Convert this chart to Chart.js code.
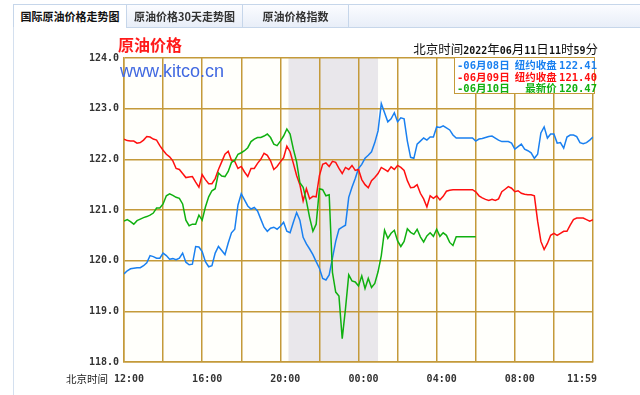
<!DOCTYPE html>
<html lang="zh-CN">
<head>
<meta charset="utf-8">
<title>原油价格走势图</title>
<script src="https://cdn.jsdelivr.net/npm/chart.js@4"></script>
<style>
  html, body { margin: 0; padding: 0; background: #fff; }
  #wrap { position: relative; width: 640px; height: 395px; overflow: hidden; font-family: "Noto Sans CJK SC", sans-serif; }
  #chart { position: absolute; left: 0; top: 0; }
  .tab { position: absolute; top: 4px; height: 24px; box-sizing: border-box; border: 1px solid #c6d6ea;
         background: linear-gradient(#fbfcff, #e8eef8); font-size: 11px; font-weight: bold; color: #333;
         line-height: 22px; text-align: center; white-space: nowrap; }
  .tab.active { background: #fff; border-bottom-color: #fff; color: #111; }
  #leftLine { position: absolute; left: 13px; top: 27px; width: 1px; height: 368px; background: #d4e0ef; }
  #title { position: absolute; left: 118px; top: 35px; font-size: 16px; font-weight: bold; color: #ff1a1a; line-height: 18px; }
  #site { position: absolute; left: 120px; top: 62px; font-family: "Liberation Sans", Arial, sans-serif; font-size: 18px; color: #4169e1; line-height: 18px; }
  #clock { position: absolute; right: 42px; top: 42px; font-size: 12.5px; line-height: 14px; color: #111; white-space: nowrap; }
  #clock .mono { font-size: 10px; }
  .mono { font-family: "DejaVu Sans Mono", monospace; font-weight: bold; }
  #legendBox { position: absolute; left: 454px; top: 57px; width: 141px; height: 37px; box-sizing: border-box;
               border: 1px solid #c49a3a; background: #fff; padding-top: 1px; }
  .row { position: relative; height: 11.5px; line-height: 11.5px; font-size: 10.5px; font-weight: bold; white-space: nowrap; }
  .row .l { position: absolute; left: 2px; }
  .row .r { position: absolute; right: -3px; }
  #xName { position: absolute; left: 66px; top: 372px; font-size: 10.5px; line-height: 13px; color: #222; }
</style>
</head>
<body>
<div id="wrap">
  <canvas id="chart" width="640" height="395"></canvas>

  <div class="tab active" style="left:13px;width:114px">国际原油价格走势图</div>
  <div class="tab" style="left:126px;width:117px">原油价格30天走势图</div>
  <div class="tab" style="left:242px;width:107px">原油价格指数</div>
  <div class="tab" style="left:348px;width:300px"></div>
  <div id="leftLine"></div>

  <div id="title">原油价格</div>
  <div id="site">www.kitco.cn</div>
  <div id="clock">北京时间<span class="mono">2022</span>年<span class="mono">06</span>月<span class="mono">11</span>日<span class="mono">11</span>时<span class="mono">59</span>分</div>

  <div id="legendBox">
    <div class="row" style="color:#1a80f0"><span class="l"><span class="mono">-06</span>月<span class="mono">08</span>日</span><span class="r">纽约收盘 <span class="mono">122.41</span></span></div>
    <div class="row" style="color:#ff1010"><span class="l"><span class="mono">-06</span>月<span class="mono">09</span>日</span><span class="r">纽约收盘 <span class="mono">121.40</span></span></div>
    <div class="row" style="color:#10b010"><span class="l"><span class="mono">-06</span>月<span class="mono">10</span>日</span><span class="r">最新价 <span class="mono">120.47</span></span></div>
  </div>

  <div id="xName">北京时间</div>
</div>

<script>
// ===== Datos (un valor cada 10 minutos desde las 12:00) =====
const STEP_MIN = 10;

// 06月08日 (azul)
const jun08 = [
  119.74, 119.80, 119.84, 119.85, 119.86, 119.86, 119.90, 119.96, 120.10, 120.08, 120.05, 120.05,
  120.15, 120.10, 120.03, 120.04, 120.02, 120.05, 120.15, 119.97, 119.92, 119.93, 120.28, 120.27,
  120.18, 119.98, 119.88, 119.90, 120.15, 120.28, 120.20, 120.12, 120.35, 120.55, 120.62, 121.10,
  121.32, 121.20, 121.08, 121.02, 121.05, 120.98, 120.82, 120.66, 120.58, 120.64, 120.66, 120.62,
  120.68, 120.76, 120.58, 120.55, 120.76, 120.95, 120.80, 120.46, 120.33, 120.23, 120.12, 119.98,
  119.85, 119.65, 119.62, 119.72, 120.05, 120.38, 120.62, 120.66, 120.70, 121.25, 121.45, 121.62,
  121.82, 121.90, 122.02, 122.08, 122.15, 122.33, 122.56, 123.10, 122.92, 122.74, 122.80, 122.92,
  122.74, 122.82, 122.80, 122.36, 122.04, 122.02, 122.30, 122.36, 122.42, 122.38, 122.44, 122.44,
  122.64, 122.63, 122.66, 122.62, 122.58, 122.48, 122.42, 122.42, 122.42, 122.42, 122.42, 122.42,
  122.36, 122.40, 122.41, 122.43, 122.45, 122.46, 122.42, 122.38, 122.35, 122.35, 122.35, 122.32,
  122.20, 122.25, 122.30, 122.20, 122.17, 122.13, 122.02, 122.10, 122.52, 122.64, 122.42, 122.50,
  122.50, 122.32, 122.33, 122.22, 122.44, 122.48, 122.48, 122.45, 122.33, 122.31, 122.33, 122.38,
  122.44
];

// 06月09日 (rojo)
const jun09 = [
  122.40, 122.37, 122.36, 122.36, 122.32, 122.33, 122.38, 122.45, 122.44, 122.40, 122.38, 122.27,
  122.18, 122.10, 122.05, 121.97, 121.82, 121.80, 121.72, 121.64, 121.65, 121.66, 121.55, 121.45,
  121.70, 121.60, 121.52, 121.52, 121.62, 121.80, 121.95, 122.10, 122.16, 121.98, 121.96, 121.82,
  121.86, 121.75, 121.66, 121.82, 121.82, 121.92, 122.00, 122.12, 122.08, 121.97, 121.80, 121.86,
  121.95, 122.03, 122.26, 122.15, 121.92, 121.68, 121.50, 121.18, 121.42, 121.22, 121.27, 121.26,
  121.68, 121.90, 121.93, 121.86, 121.96, 121.94, 121.82, 121.72, 121.84, 121.80, 121.88, 121.78,
  121.80, 121.60, 121.50, 121.44, 121.58, 121.64, 121.72, 121.84, 121.80, 121.76, 121.85, 121.80,
  121.88, 121.84, 121.78, 121.58, 121.44, 121.45, 121.50, 121.33, 121.22, 121.06, 121.28, 121.23,
  121.28, 121.20, 121.27, 121.37, 121.39, 121.40, 121.40, 121.40, 121.40, 121.40, 121.40, 121.40,
  121.36, 121.28, 121.24, 121.21, 121.19, 121.21, 121.19, 121.22, 121.36, 121.41, 121.46, 121.43,
  121.36, 121.38, 121.33, 121.31, 121.30, 121.30, 121.28, 120.78, 120.38, 120.22, 120.34, 120.50,
  120.54, 120.50, 120.54, 120.58, 120.58, 120.70, 120.81, 120.84, 120.84, 120.84, 120.81, 120.78,
  120.81
];

// 06月10日 (verde, hasta las 06:00)
const jun10 = [
  120.78, 120.81, 120.77, 120.72, 120.79, 120.82, 120.85, 120.87, 120.90, 120.94, 121.04, 121.04,
  121.12, 121.28, 121.32, 121.29, 121.25, 121.23, 121.12, 120.80, 120.69, 120.72, 120.72, 120.90,
  120.80, 121.06, 121.26, 121.38, 121.42, 121.73, 121.67, 121.66, 121.76, 121.94, 121.98, 122.10,
  122.13, 122.17, 122.23, 122.35, 122.40, 122.43, 122.43, 122.46, 122.50, 122.43, 122.30, 122.27,
  122.36, 122.46, 122.60, 122.50, 122.20, 121.95, 121.54, 121.45, 121.18, 120.85, 120.58, 120.72,
  121.42, 121.40, 121.28, 121.30, 119.77, 119.38, 119.30, 118.46, 119.05, 119.72, 119.60, 119.58,
  119.50, 119.70, 119.45, 119.65, 119.47, 119.55, 119.78, 120.10, 120.60, 120.44, 120.54, 120.60,
  120.39, 120.28, 120.38, 120.63, 120.56, 120.52, 120.62, 120.47, 120.37, 120.49, 120.55, 120.48,
  120.62, 120.48, 120.55, 120.50, 120.36, 120.30, 120.47, 120.47, 120.47, 120.47, 120.47, 120.47,
  120.47
];

// Etiquetas del eje X (minutos desde las 12:00)
const xTickMinutes = [0, 240, 480, 720, 960, 1200, 1439];
const xTickLabels = ['12:00', '16:00', '20:00', '00:00', '04:00', '08:00', '11:59'];

// Franja gris (minutos desde las 12:00)
const breakStart = 505;
const breakEnd = 780;

// ===== Estilos =====
const GRID = '#c49a3a';
const AXIS_FONT = { family: 'DejaVu Sans Mono', size: 10, weight: 'bold' };

const toPoints = values => values.map((v, i) => ({ x: i * STEP_MIN, y: v }));

// Fondo del área y franja gris
const breakBand = {
    id: 'breakBand',
    beforeDraw(chart) {
        const { ctx, chartArea: a, scales: { x } } = chart;
        ctx.save();
        ctx.fillStyle = '#fffffb';
        ctx.fillRect(a.left, a.top, a.width, a.height);
        const x0 = x.getPixelForValue(breakStart);
        const x1 = x.getPixelForValue(breakEnd);
        ctx.fillStyle = '#e9e7eb';
        ctx.fillRect(x0, a.top, x1 - x0, a.height);
        ctx.restore();
    }
};

// Etiquetas del eje X
const xLabels = {
    id: 'xLabels',
    afterDraw(chart) {
        const { ctx, chartArea: a, scales: { x } } = chart;
        ctx.save();
        ctx.font = 'bold 10px "DejaVu Sans Mono"';
        ctx.fillStyle = '#333';
        ctx.textBaseline = 'middle';
        xTickMinutes.forEach((m, i) => {
            const last = i === xTickMinutes.length - 1;
            ctx.textAlign = last ? 'right' : 'center';
            const px = last ? a.right + 4 : x.getPixelForValue(m) + 5;
            ctx.fillText(xTickLabels[i], px, a.bottom + 17);
        });
        ctx.restore();
    }
};

const line = (data, color) => ({
    data: toPoints(data),
    borderColor: color,
    borderWidth: 1.5,
    pointRadius: 0,
    tension: 0,
    fill: false
});

new Chart(document.getElementById('chart'), {
    type: 'line',
    data: {
        datasets: [
            line(jun10, '#10b010'),
            line(jun09, '#ff1010'),
            line(jun08, '#1a80f0')
        ]
    },
    options: {
        responsive: false,
        animation: false,
        events: [],
        layout: { padding: { left: 64, top: 58, right: 47, bottom: 13 } },
        plugins: {
            legend: { display: false },
            tooltip: { enabled: false }
        },
        scales: {
            x: {
                type: 'linear',
                min: 0,
                max: 1440,
                ticks: { stepSize: 120, display: false },
                grid: { color: GRID, lineWidth: 1.5, drawTicks: false },
                border: { color: GRID, width: 1.5 },
                afterFit(scale) { scale.height = 20; }
            },
            y: {
                min: 118,
                max: 124,
                ticks: {
                    stepSize: 1,
                    padding: 5,
                    font: AXIS_FONT,
                    color: '#333',
                    callback: v => v.toFixed(1)
                },
                grid: { color: GRID, lineWidth: 1.5, drawTicks: false },
                border: { color: GRID, width: 1.5 },
                afterFit(scale) { scale.width = 60; }
            }
        }
    },
    plugins: [breakBand, xLabels]
});
</script>
</body>
</html>
